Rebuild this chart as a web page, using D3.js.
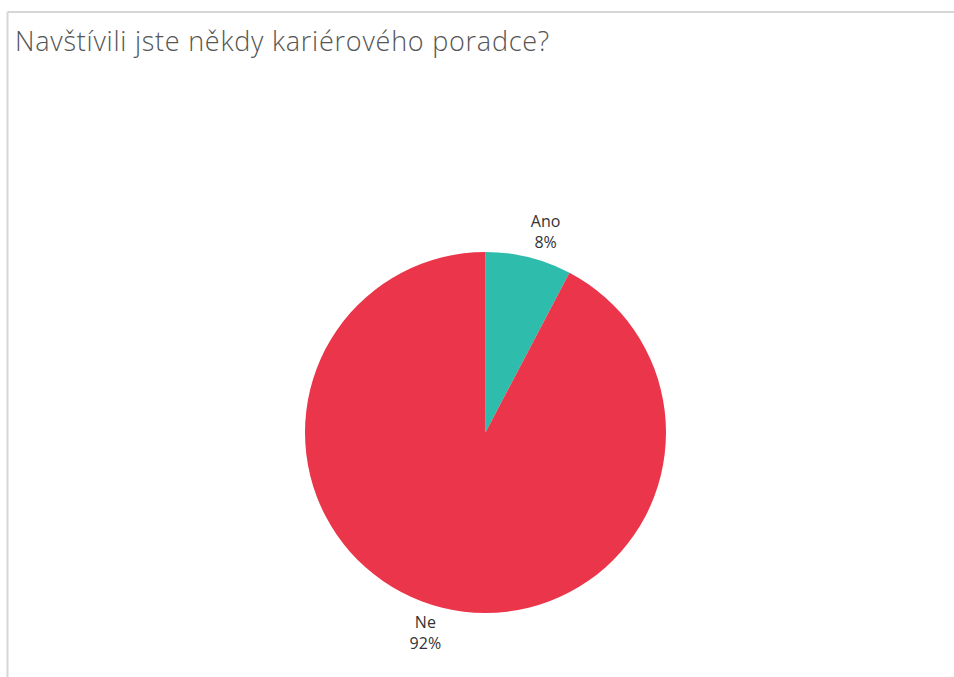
<!DOCTYPE html>
<html>
<head>
<meta charset="utf-8">
<script src="https://cdn.jsdelivr.net/npm/d3@7"></script>
<style>
  body { margin: 0; background: #fff; }
  svg { display: block; }
</style>
</head>
<body>
<div id="chart"></div>
<script>
//Chart data
let categories = ["Ano", "Ne"];
let values = [7.7, 92.3];
let labels = ["8%", "92%"];
let colors = ["#2ebdac", "#eb354b"];

//SVG sizes
let width = 954,
  height = 677;

let svg = d3.select("#chart").append("svg")
  .attr("width", width)
  .attr("height", height);

//Frame lines (top and left)
svg.append("line")
  .attr("x1", 7.5).attr("y1", 12)
  .attr("x2", width).attr("y2", 12)
  .attr("stroke", "#d6d6d6")
  .attr("stroke-width", 2);
svg.append("line")
  .attr("x1", 7.5).attr("y1", 12)
  .attr("x2", 7.5).attr("y2", height)
  .attr("stroke", "#d6d6d6")
  .attr("stroke-width", 2);

//Title
svg.append("text")
  .attr("x", 15)
  .attr("y", 51)
  .attr("font-family", "'Open Sans', sans-serif")
  .attr("font-weight", 300)
  .attr("font-size", "27px")
  .attr("letter-spacing", "0.75px")
  .attr("fill", "#555")
  .text("Navštívili jste někdy kariérového poradce?");

//Pie
let cx = 485.5, cy = 432.5, radius = 180.5;
let data = categories.map(function (c, i) {
  return {name: c, value: values[i], label: labels[i], color: colors[i]};
});

let pie = d3.pie().sort(null).value(function (d) { return d.value; });
let arc = d3.arc().innerRadius(0).outerRadius(radius);

let g = svg.append("g")
  .attr("transform", "translate(" + cx + "," + cy + ")");

g.selectAll(".slice")
  .data(pie(data))
  .enter().append("path")
  .attr("class", "slice")
  .attr("d", arc)
  .style("fill", function (d) { return d.data.color; });

//Labels, placed outside the pie a bit past each slice's mid angle
let labelRadius = 209;
let lab = g.selectAll(".slice-label")
  .data(pie(data))
  .enter().append("text")
  .attr("class", "slice-label")
  .attr("transform", function (d) {
    let a = (d.startAngle + d.endAngle) / 2 + 0.05;
    return "translate(" + (labelRadius * Math.sin(a)) + "," + (-labelRadius * Math.cos(a)) + ")";
  })
  .attr("text-anchor", "middle")
  .attr("font-family", "'Open Sans', sans-serif")
  .attr("font-size", "16px")
  .attr("fill", "#333");

lab.append("tspan")
  .attr("x", 0).attr("y", -5)
  .text(function (d) { return d.data.name; });
lab.append("tspan")
  .attr("x", 0).attr("y", 16)
  .text(function (d) { return d.data.label; });
</script>
</body>
</html>
